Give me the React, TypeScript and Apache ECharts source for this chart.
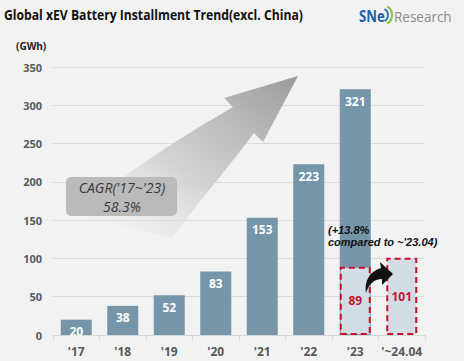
import React, { useEffect, useRef } from "react";
import * as echarts from "echarts";

const categories = ["'17", "'18", "'19", "'20", "'21", "'22", "'23", "'~24.04"];
const annualValues = [20, 38, 52, 83, 153, 223, 321, null];
const ytdValues = [null, null, null, null, null, null, 89, 101];
const titleText = "Global xEV Battery Installment Trend(excl. China)";
const unitText = "(GWh)";
const cagrLines = ["CAGR('17~'23)", "58.3%"];
const noteLines = ["(+13.8%", "compared to ~'23.04)"];

let registered = false;
function registerShapes() {
  if (registered) return;
  registered = true;
  echarts.graphic.registerShape(
    "growArrow",
    echarts.graphic.extendPath(
      "M298,76 L224,98 L233,107 C190,132 130,168 78,214 L172,238 C200,200 228,168 254,133 L263,142 Z",
      {}
    )
  );
  echarts.graphic.registerShape(
    "curveArrow",
    echarts.graphic.extendPath(
      "M366,293 C364,281 370,271 381,268 L380,262 L393,274 L382,285 L382,279 C374,279 369,284 366,293 Z",
      {}
    )
  );
}

export default function App() {
  const ref = useRef<HTMLDivElement>(null);
  useEffect(() => {
    document.body.style.margin = "0";
    registerShapes();
    const chart = echarts.init(ref.current!, null, { renderer: "svg" });
    const font = "'Open Sans', 'Noto Sans', sans-serif";
    chart.setOption({
      animation: false,
      backgroundColor: "#f2f2f2",
      grid: { left: 53, right: 39, top: 67, bottom: 26, containLabel: false },
      xAxis: {
        type: "category",
        data: categories,
        axisLine: { lineStyle: { color: "#d6d6d6", width: 1 } },
        axisTick: { show: true, length: 5, lineStyle: { color: "#d6d6d6" } },
        axisLabel: {
          interval: 0,
          color: "#595959",
          fontSize: 12,
          fontWeight: "bold",
          fontFamily: font,
          margin: 10,
        },
      },
      yAxis: {
        type: "value",
        min: 0,
        max: 350,
        interval: 50,
        axisLine: { show: false },
        axisTick: { show: false },
        splitLine: { lineStyle: { color: "#dadada", width: 1 } },
        axisLabel: { color: "#595959", fontSize: 11, fontWeight: "bold", fontFamily: font, margin: 11 },
      },
      series: [
        {
          type: "bar",
          data: annualValues,
          barWidth: 31,
          barGap: "-100%",
          itemStyle: { color: "#7595a9" },
          label: {
            show: true,
            position: "insideTop",
            distance: 6,
            color: "#ffffff",
            fontSize: 12,
            fontWeight: "bold",
            fontFamily: font,
          },
          z: 2,
        },
        {
          type: "bar",
          data: ytdValues,
          barWidth: 31,
          barGap: "-100%",
          itemStyle: {
            color: "#d2dce4",
            borderColor: "#c8102e",
            borderWidth: 2,
            borderType: [6, 4],
          },
          label: {
            show: true,
            position: "inside",
            color: "#c0162f",
            fontSize: 12,
            fontWeight: "bold",
            fontFamily: font,
          },
          z: 3,
        },
      ],
      graphic: [
        {
          type: "text",
          x: 4,
          y: 15,
          scaleX: 0.87,
          style: {
            text: titleText,
            font: "bold 14px " + font,
            fill: "#111111",
            verticalAlign: "middle",
          },
        },
        {
          type: "text",
          x: 16,
          y: 46,
          style: { text: unitText, font: "bold 10px " + font, fill: "#222222", verticalAlign: "middle" },
        },
        {
          type: "text",
          x: 359,
          y: 15,
          scaleX: 0.82,
          style: { text: "SNe", font: "bold 16px " + font, fill: "#1f5da8", verticalAlign: "middle" },
        },
        {
          type: "arc",
          shape: { cx: 382, cy: 15, r: 10, startAngle: -Math.PI / 3, endAngle: Math.PI / 3 },
          style: { stroke: "#8cc63f", lineWidth: 2.2, fill: "none" },
        },
        {
          type: "arc",
          shape: { cx: 381, cy: 15, r: 7, startAngle: -Math.PI / 3, endAngle: Math.PI / 3 },
          style: { stroke: "#1f6db5", lineWidth: 1.8, fill: "none" },
        },
        {
          type: "text",
          x: 394,
          y: 16,
          scaleX: 0.9,
          style: { text: "Research", font: "15px " + font, fill: "#8a8a8a", verticalAlign: "middle" },
        },
        {
          type: "growArrow",
          x: 0,
          y: 0,
          z: 10,
          style: {
            fill: new echarts.graphic.LinearGradient(0, 1, 1, 0, [
              { offset: 0, color: "rgba(242,242,242,0)" },
              { offset: 0.45, color: "rgba(205,205,205,0.85)" },
              { offset: 1, color: "#9a9a9a" },
            ]),
          },
        },
        {
          type: "rect",
          z: 11,
          shape: { x: 66, y: 177, width: 111, height: 39, r: 5 },
          style: { fill: "#bababa" },
        },
        {
          type: "text",
          z: 12,
          x: 122,
          y: 187,
          style: {
            text: cagrLines[0],
            font: "italic 14px " + font,
            fill: "#3a3a3a",
            align: "center",
            verticalAlign: "middle",
          },
        },
        {
          type: "text",
          z: 12,
          x: 122,
          y: 206,
          style: {
            text: cagrLines[1],
            font: "italic 14px " + font,
            fill: "#3a3a3a",
            align: "center",
            verticalAlign: "middle",
          },
        },
        {
          type: "text",
          z: 12,
          x: 328,
          y: 230,
          style: {
            text: noteLines[0],
            font: "italic bold 11px 'Liberation Sans', Arial, sans-serif",
            fill: "#111111",
            verticalAlign: "middle",
          },
        },
        {
          type: "text",
          z: 12,
          x: 328,
          y: 242,
          style: {
            text: noteLines[1],
            font: "italic bold 11px 'Liberation Sans', Arial, sans-serif",
            fill: "#111111",
            verticalAlign: "middle",
          },
        },
        {
          type: "curveArrow",
          z: 12,
          x: 0,
          y: 0,
          style: { fill: "#111111" },
        },
      ],
    });
    return () => chart.dispose();
  }, []);
  return (
    <div
      ref={ref}
      style={{ position: "absolute", left: 0, top: 0, width: 464, height: 361 }}
    />
  );
}
